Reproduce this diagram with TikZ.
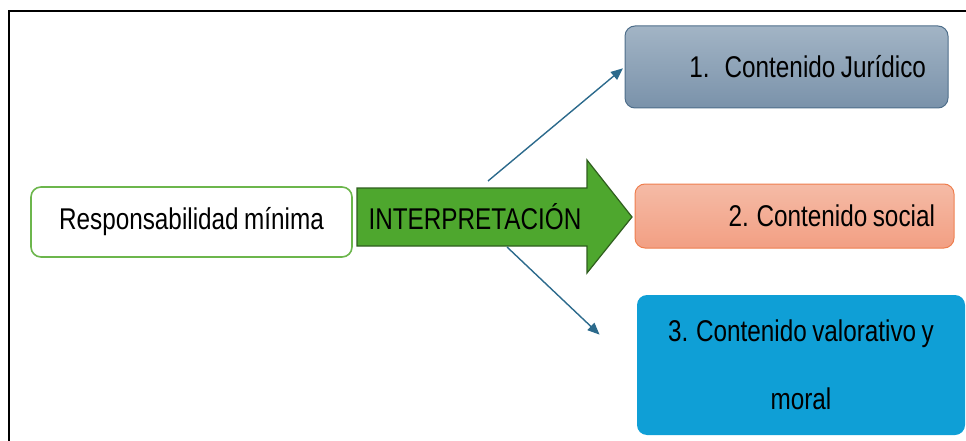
\documentclass[tikz,border=0pt]{standalone}
\usepackage{fontspec}
\setmainfont[FakeStretch=0.81,WordSpace=0.81]{Liberation Sans}
\usetikzlibrary{arrows.meta,positioning}
\definecolor{leaf}{HTML}{4EA72E}
\definecolor{leafdark}{HTML}{2F5E1E}
\definecolor{leaflight}{HTML}{6CB64C}
\definecolor{steel}{HTML}{2C6A8C}
\definecolor{slatetop}{HTML}{A2B4C5}
\definecolor{slatebot}{HTML}{7A92AA}
\definecolor{slateline}{HTML}{4E6E8A}
\definecolor{salmontop}{HTML}{F5BBA6}
\definecolor{salmonbot}{HTML}{F29F83}
\definecolor{salmonline}{HTML}{EE7E4E}
\definecolor{sky}{HTML}{0F9FD6}
\begin{document}
\begin{tikzpicture}[x=1pt,y=-1pt,font=\fontsize{30}{36}\selectfont,
  box/.style={rounded corners=10pt,inner ysep=0pt},
  link/.style={steel,line width=1.4pt,shorten >=2pt,-{Triangle[length=12pt,width=10pt]}}]
\useasboundingbox (0,0) rectangle (966,441);
\draw[line width=2pt] (9,441)--(9,11)--(966,11);
% source and the big arrow
\node[box,draw=leaflight,line width=1.6pt,minimum width=321pt,minimum height=70pt] (resp) at (191.5,222) {Responsabilidad mínima};
\draw[leafdark,fill=leaf,line width=1.2pt] (357,188)--(587,188)--(587,160)--(632,217)--(587,273)--(587,246)--(357,246)--cycle;
\node (interp) at (475,217) {INTERPRETACIÓN};
% the three contents
\node[box,draw=slateline,line width=1pt,top color=slatetop,bottom color=slatebot,minimum width=323pt,minimum height=82pt,inner xsep=22pt] (jur) at (786.5,67) {\makebox[279pt][r]{1.\hspace{15pt}Contenido Jurídico}};
\node[box,draw=salmonline,line width=1pt,top color=salmontop,bottom color=salmonbot,minimum width=319pt,minimum height=64pt,inner xsep=19pt] (soc) at (794.5,216) {\makebox[281pt][r]{2. Contenido social}};
\node[box,fill=sky,minimum width=328pt,minimum height=140pt,align=center,font=\fontsize{30}{68}\selectfont] (val) at (801,365) {3. Contenido valorativo y\\moral};
\coordinate (upA) at (488,181);
\coordinate (lowA) at (507,247);
\coordinate (lowB) at (601,336);
\draw[link] (upA) -- (jur.west);
\draw[link] (lowA) -- (lowB);
\end{tikzpicture}
\end{document}
